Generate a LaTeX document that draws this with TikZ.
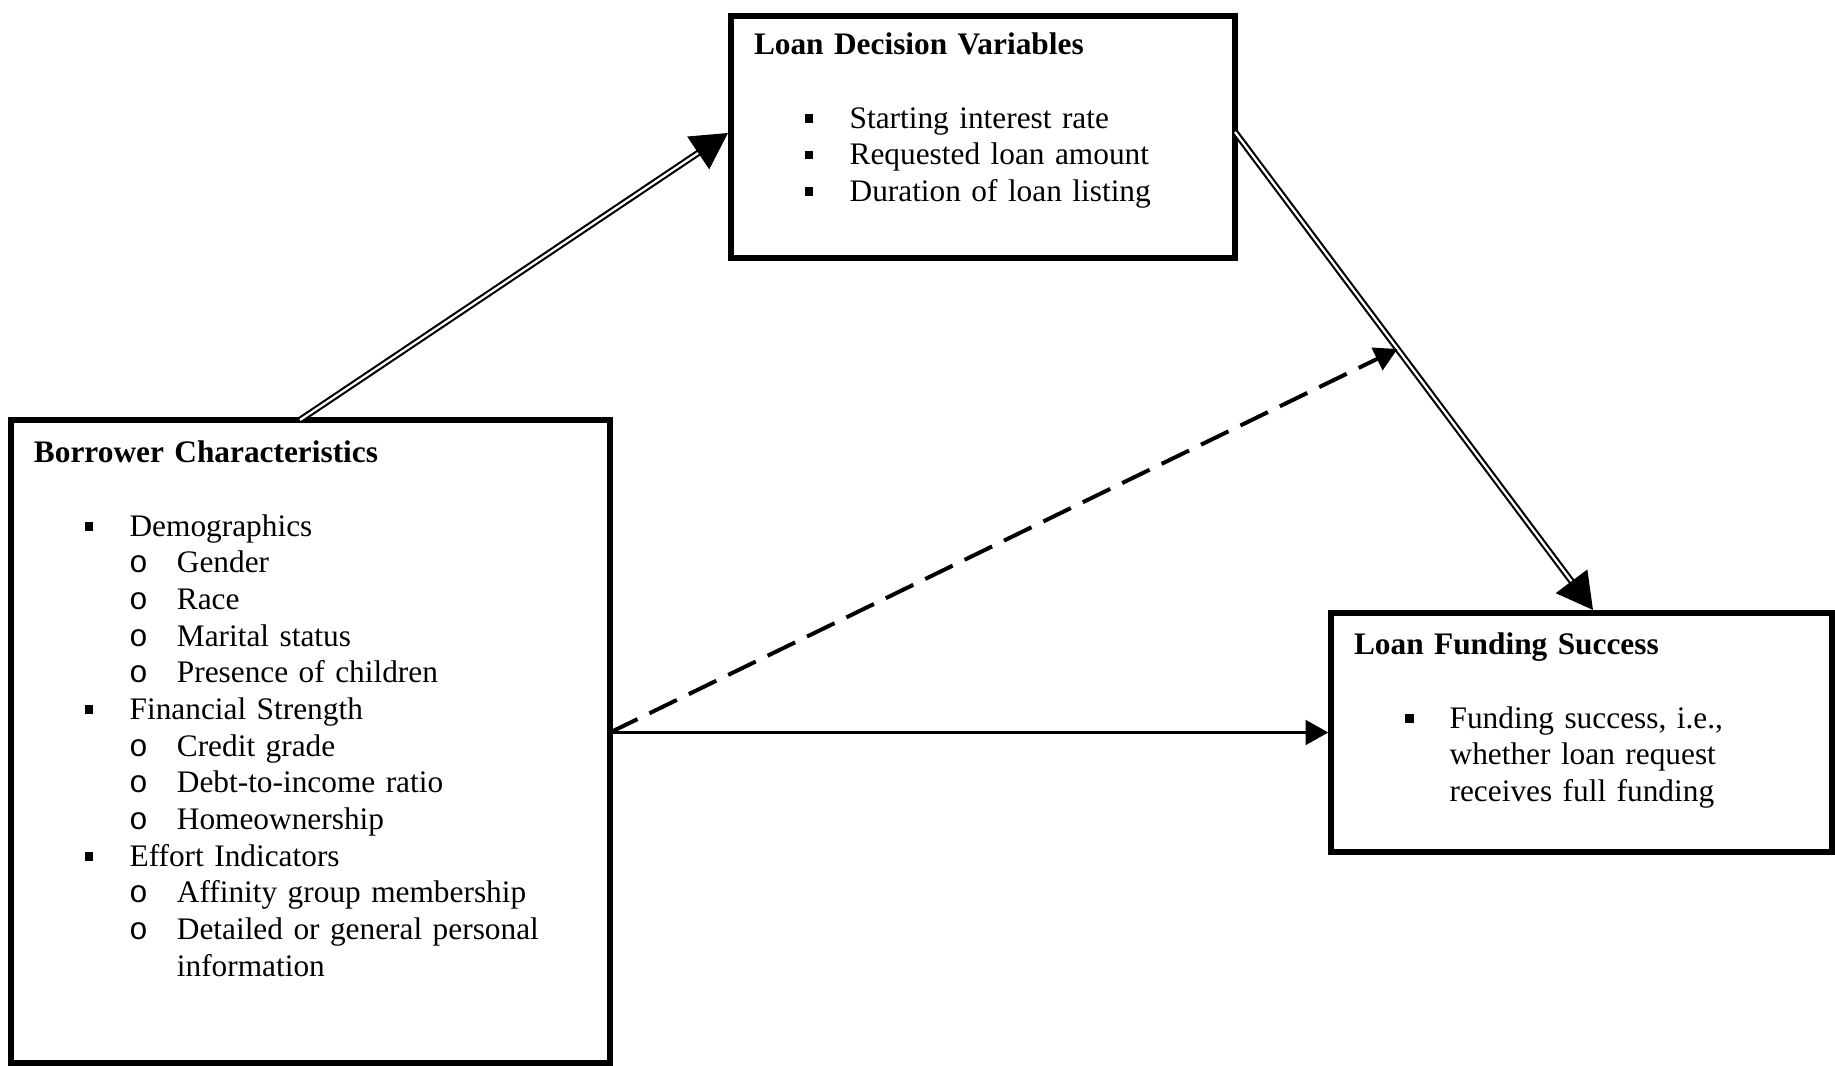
\documentclass[tikz,border=0pt]{standalone}
\usepackage{fontspec}
\setmainfont{Liberation Serif}
\newfontfamily\ofont{Liberation Mono}
\usepackage{tikz}
\usetikzlibrary{arrows.meta}
\tikzset{every picture/.style={line width=0.75pt}}
\def\pu{0.3765pt}
\tikzset{
  framebox/.style={draw, line width=2pt, inner sep=0pt, outer sep=0pt, anchor=north west},
  listtext/.style={anchor=base west, inner sep=0pt, text width=220pt, align=left, font=\fontsize{11.8pt}{13.8pt}\selectfont},
  twoline/.style={double, line width=0.8pt, double distance=0.85pt, -{Triangle[length=13.5pt,width=14.7pt]}},
  oneline/.style={line width=1.5pt, -{Triangle[length=8.6pt,width=9.2pt]}},
}
\newcommand{\sqitem}[1]{\makebox[36pt][l]{\hspace*{19.1pt}\rule[2.1pt]{3.3pt}{3.3pt}}#1}
\newcommand{\oitem}[1]{\makebox[53.8pt][l]{\hspace*{36.4pt}\makebox[6pt]{\ofont o}}#1}

\begin{document}
\begin{tikzpicture}[x=0.3765pt,y=0.3765pt,yscale=-1]
\useasboundingbox (0,0) rectangle (1835,1066);

%Shape: Rectangle [borrower]
\node[framebox, minimum width=599*\pu, minimum height=643*\pu] (borrower) at (11,420) {};
%Shape: Rectangle [decision]
\node[framebox, minimum width=504*\pu, minimum height=242*\pu] (decision) at (731,16) {};
%Shape: Rectangle [funding]
\node[framebox, minimum width=501*\pu, minimum height=239*\pu] (funding) at (1331,613) {};

% Text Node
\node[listtext] (borrowerlist) at ([shift={(22,43)}]borrower.north west) {\textbf{Borrower Characteristics}\\[13.8pt]
\sqitem{Demographics}\\
\oitem{Gender}\\
\oitem{Race}\\
\oitem{Marital status}\\
\oitem{Presence of children}\\
\sqitem{Financial Strength}\\
\oitem{Credit grade}\\
\oitem{Debt-to-income ratio}\\
\oitem{Homeownership}\\
\sqitem{Effort Indicators}\\
\oitem{Affinity group membership}\\
\oitem{Detailed or general personal}\\
\hspace*{53.8pt}information};
% Text Node
\node[listtext] (decisionlist) at ([shift={(22,39)}]decision.north west) {\textbf{Loan Decision Variables}\\[13.8pt]
\sqitem{Starting interest rate}\\
\sqitem{Requested loan amount}\\
\sqitem{Duration of loan listing}};
% Text Node
\node[listtext] (fundinglist) at ([shift={(22,42)}]funding.north west) {\textbf{Loan Funding Success}\\[13.8pt]
\sqitem{Funding success, i.e.,}\\
\hspace*{36pt}whether loan request\\
\hspace*{36pt}receives full funding};

%Straight Lines
\coordinate (bstart) at ([shift={(289,0)}]borrower.north west);
\draw[twoline] (bstart) -- ([shift={(-3,117)}]decision.north west);
%Straight Lines
\coordinate (dstart) at ([shift={(0,116)}]decision.north east);
\draw[twoline] (dstart) -- coordinate[pos=0.454] (meet) ([shift={(262,-3)}]funding.north west);
%Straight Lines
\coordinate (src) at (borrower.east |- funding.west);
\draw[oneline, dash pattern=on 11.5pt off 5pt] (src) -- (meet);
%Straight Lines
\draw[oneline] (src) -- ([xshift=-1pt]funding.west);

\end{tikzpicture}
\end{document}
